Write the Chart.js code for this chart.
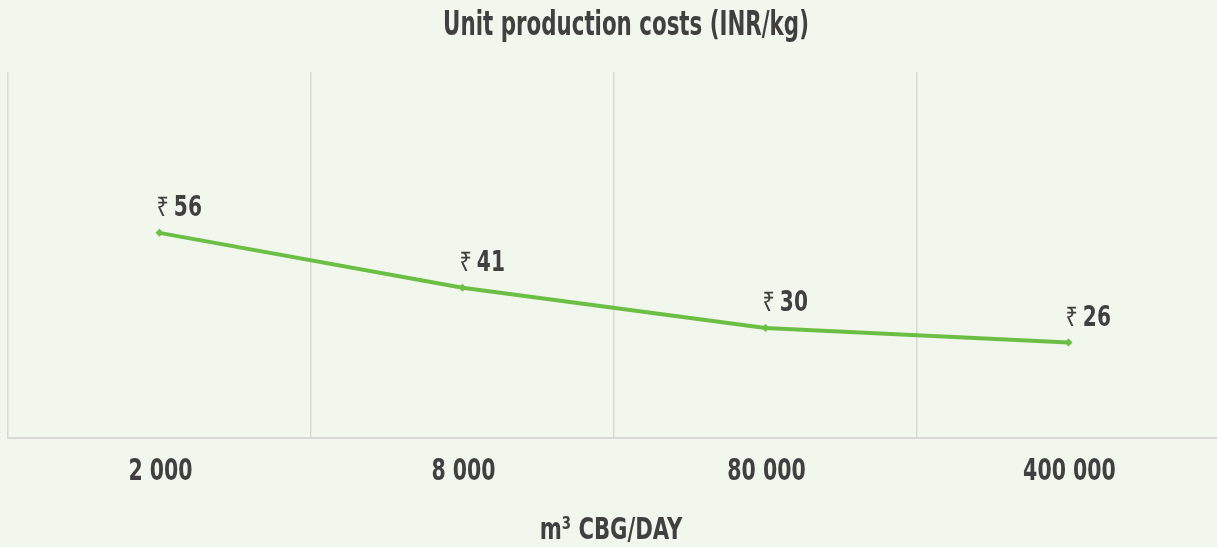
<!DOCTYPE html>
<html>
<head>
<meta charset="utf-8">
<script src="https://cdn.jsdelivr.net/npm/chart.js@4"></script>
<style>
  html, body { margin: 0; padding: 0; background: #f2f7ed; overflow: hidden; }
</style>
</head>
<body>
<canvas id="costChart" width="1252" height="547"></canvas>
<script>
const categories = ["2 000", "8 000", "80 000", "400 000"];
const costValues = [56, 41, 30, 26];
const currency = "\u20B9";
const chartTitle = "Unit production costs (INR/kg)";
const axisTitle = "m\u00B3 CBG/DAY";

const textColor = "#404040";
const lineColor = "#6cbf45";
const fontFamily = "'DejaVu Sans Condensed', 'Roboto', sans-serif";
const squeeze = 0.76;

// narrow text helper, the original uses a tall condensed face
function narrowText(ctx, text, x, y, sx) {
  ctx.save();
  ctx.translate(x, y);
  ctx.scale(sx, 1);
  ctx.fillText(text, 0, 0);
  ctx.restore();
}

// title, category labels, axis title and "₹ 56" labels
const textLayer = {
  id: 'textLayer',
  afterDraw(chart) {
    const ctx = chart.ctx;
    const meta = chart.getDatasetMeta(0);
    const xScale = chart.scales.x;
    const area = chart.chartArea;
    ctx.save();
    ctx.fillStyle = textColor;
    ctx.textBaseline = 'alphabetic';

    ctx.textAlign = 'center';
    ctx.font = "bold 33px " + fontFamily;
    narrowText(ctx, chartTitle, 626, 35, 0.72);

    ctx.font = "bold 30px " + fontFamily;
    categories.forEach((c, i) => {
      narrowText(ctx, c, xScale.getPixelForTick(i) + 1, 480, squeeze);
    });
    ctx.font = "bold 31px " + fontFamily;
    narrowText(ctx, axisTitle, (area.left + area.right) / 2 - 3, 539, squeeze);

    ctx.textAlign = 'left';
    meta.data.forEach((pt, i) => {
      const x = pt.x - 3;
      const y = pt.y - 17;
      ctx.font = "400 27px 'Noto Sans', 'DejaVu Sans', sans-serif";
      narrowText(ctx, currency, x, y, 0.8);
      const w = ctx.measureText(currency).width * 0.8;
      ctx.font = "bold 28px " + fontFamily;
      narrowText(ctx, String(costValues[i]), x + w + 5, y, 0.8);
    });
    ctx.restore();
  }
};

new Chart(document.getElementById('costChart'), {
  type: 'line',
  data: {
    labels: categories,
    datasets: [
      {
        label: "Unit production costs",
        data: costValues,
        borderColor: lineColor,
        backgroundColor: lineColor,
        borderWidth: 4,
        pointStyle: 'rectRot',
        pointRadius: 4,
        pointBorderWidth: 0,
        tension: 0
      }
    ]
  },
  options: {
    responsive: false,
    animation: false,
    devicePixelRatio: 1,
    layout: { padding: { left: 8, right: 32, top: 72, bottom: 3 } },
    plugins: {
      legend: { display: false },
      tooltip: { enabled: false },
      title: { display: false }
    },
    scales: {
      x: {
        offset: true,
        grid: { offset: true, color: "#d9d9d9", lineWidth: 1.5, drawTicks: false },
        border: { display: true, color: "#d9d9d9", width: 2 },
        ticks: {
          // drawn narrow by textLayer, kept here for spacing
          color: 'rgba(0,0,0,0)',
          padding: 16,
          font: { family: fontFamily, size: 26, weight: 'bold' }
        },
        title: {
          display: true,
          text: axisTitle,
          color: 'rgba(0,0,0,0)',
          font: { family: fontFamily, size: 26, weight: 'bold' },
          padding: { top: 12, bottom: 0 }
        }
      },
      y: {
        display: false,
        min: 0,
        max: 100
      }
    }
  },
  plugins: [textLayer]
});
</script>
</body>
</html>
